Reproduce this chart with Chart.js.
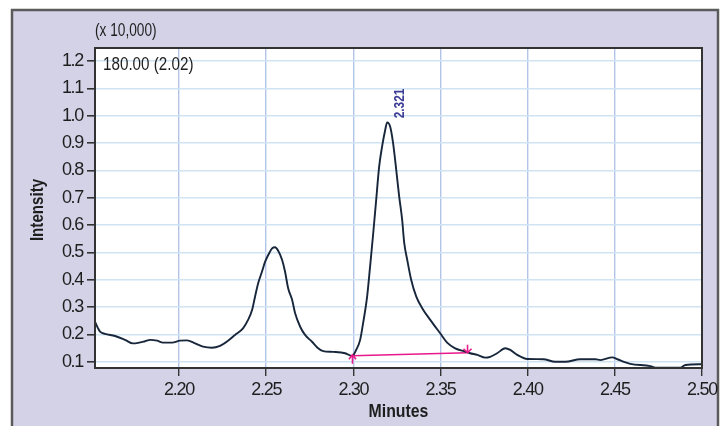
<!DOCTYPE html>
<html><head><meta charset="utf-8">
<script src="https://cdn.jsdelivr.net/npm/chart.js@4.4.1/dist/chart.umd.min.js"></script>
<style>html,body{margin:0;padding:0;background:#fff}#wrap{width:727px;height:426px}</style>
</head><body><div id="wrap"><canvas id="c" width="727" height="426"></canvas></div>
<script>
// Retention time (minutes)
const minutes = [2.1518,2.1535,2.1547,2.1575,2.1633,2.1690,2.1736,2.1765,2.1805,2.1834,2.1874,2.1908,2.1960,2.2006,2.2046,2.2092,2.2138,2.2189,2.2235,2.2281,2.2321,2.2367,2.2396,2.2419,2.2436,2.2454,2.2476,2.2494,2.2517,2.2534,2.2551,2.2568,2.2591,2.2608,2.2626,2.2649,2.2666,2.2695,2.2723,2.2763,2.2798,2.2827,2.2884,2.2953,2.2993,2.3016,2.3039,2.3056,2.3079,2.3096,2.3114,2.3131,2.3148,2.3165,2.3183,2.3194,2.3211,2.3228,2.3246,2.3263,2.3280,2.3292,2.3309,2.3332,2.3361,2.3395,2.3441,2.3498,2.3538,2.3584,2.3642,2.3670,2.3711,2.3757,2.3785,2.3825,2.3871,2.3900,2.3940,2.3998,2.4090,2.4158,2.4216,2.4302,2.4388,2.4417,2.4486,2.4514,2.4589,2.4704,2.4733,2.4876,2.4905,2.5003];
// Intensity (x 10,000)
const intensity = [0.247,0.223,0.210,0.202,0.194,0.180,0.167,0.169,0.175,0.180,0.177,0.170,0.170,0.177,0.178,0.167,0.155,0.151,0.158,0.177,0.198,0.222,0.253,0.289,0.338,0.387,0.430,0.466,0.497,0.515,0.519,0.507,0.473,0.430,0.369,0.326,0.277,0.228,0.198,0.173,0.149,0.139,0.136,0.131,0.121,0.143,0.180,0.241,0.338,0.448,0.570,0.692,0.814,0.888,0.949,0.976,0.961,0.900,0.802,0.704,0.619,0.534,0.473,0.399,0.338,0.296,0.253,0.204,0.170,0.149,0.137,0.131,0.125,0.115,0.118,0.131,0.149,0.143,0.125,0.110,0.109,0.100,0.100,0.109,0.109,0.106,0.116,0.109,0.092,0.084,0.078,0.078,0.088,0.091];
const xTicks = [2.20,2.25,2.30,2.35,2.40,2.45,2.50];
const yTicks = [0.1,0.2,0.3,0.4,0.5,0.6,0.7,0.8,0.9,1.0,1.1,1.2];
const baselineX = [2.2995,2.3655];
const baselineY = [0.122,0.133];
const peakTime = 2.321, peakTop = 0.976, peakText = '2.321';
const channelText = '180.00 (2.02)';
const scaleText = '(x 10,000)';
const xTitle = 'Minutes', yTitle = 'Intensity';

const REG = "'Liberation Sans',Arial,sans-serif";

function txt(c, s, x, y, font, sx, align, rot, color){
  c.save();
  c.translate(x,y);
  if(rot) c.rotate(rot);
  c.scale(sx,1);
  c.font=font; c.fillStyle=color||'#1e1e1e';
  c.textAlign=align; c.textBaseline='middle';
  c.fillText(s,0,0);
  c.restore();
}

const deco = {
  id:'deco',
  beforeDraw(chart){
    const c = chart.ctx, a = chart.chartArea;
    c.save();
    c.fillStyle='#ffffff'; c.fillRect(0,0,727,426);
    c.fillStyle='#d4d2e7'; c.fillRect(12,10,706,420);
    c.strokeStyle='#5b5b5b'; c.lineWidth=2.5; c.strokeRect(12,10,706,430);
    c.fillStyle='#ffffff'; c.fillRect(a.left,a.top,a.right-a.left,a.bottom-a.top);
    c.restore();
    c.letterSpacing='-1.3px';
  },
  afterDatasetsDraw(chart){
    const c = chart.ctx, xs = chart.scales.x, ys = chart.scales.y;
    c.save();
    c.letterSpacing='0px';
    c.strokeStyle='#e8198b'; c.lineWidth=1.6;
    let x0 = xs.getPixelForValue(baselineX[0]), y0 = ys.getPixelForValue(baselineY[0]);
    c.beginPath(); c.moveTo(x0,y0-1); c.lineTo(x0,y0+8);
    c.moveTo(x0-3.5,y0+3.5); c.lineTo(x0,y0-1); c.lineTo(x0+3.5,y0+3.5); c.stroke();
    let x1 = xs.getPixelForValue(baselineX[1]), y1 = ys.getPixelForValue(baselineY[1]);
    c.beginPath(); c.moveTo(x1,y1-8); c.lineTo(x1,y1);
    c.moveTo(x1-4,y1-4); c.lineTo(x1,y1); c.lineTo(x1+4,y1-4); c.stroke();
    const px = xs.getPixelForValue(peakTime)+10, py = ys.getPixelForValue(peakTop)-4;
    txt(c, peakText, px, py, "bold 14px "+REG, 0.85, 'left', -Math.PI/2, '#3c3c96');
    c.restore();
  },
  afterDraw(chart){
    const c = chart.ctx, a = chart.chartArea;
    c.save();
    c.letterSpacing='0px';
    c.strokeStyle='#333333'; c.lineWidth=2;
    c.strokeRect(a.left,a.top,a.right-a.left,a.bottom-a.top);
    txt(c, scaleText, 95, 31, "18px "+REG, 0.76, 'left');
    txt(c, channelText, a.left+8, a.top+17, "18px "+REG, 0.845, 'left');
    txt(c, xTitle, (a.left+a.right)/2, 412, "bold 18px "+REG, 0.88, 'center');
    txt(c, yTitle, 38, 210, "bold 18px "+REG, 0.84, 'center', -Math.PI/2);
    c.restore();
  }
};

new Chart(document.getElementById('c'),{
  type:'line',
  data:{datasets:[
    {data:minutes.map((m,i)=>({x:m,y:intensity[i]})),borderColor:'#17263a',borderWidth:1.9,pointRadius:0,cubicInterpolationMode:'monotone',fill:false},
    {data:baselineX.map((m,i)=>({x:m,y:baselineY[i]})),borderColor:'#e8198b',borderWidth:1.4,pointRadius:0,fill:false}
  ]},
  options:{
    responsive:false,animation:false,devicePixelRatio:1,
    layout:{padding:{top:48,right:25,left:0,bottom:0}},
    plugins:{legend:{display:false},tooltip:{enabled:false}},
    scales:{
      x:{type:'linear',min:2.1518,max:2.5,
        afterBuildTicks:s=>{s.ticks=xTicks.map(v=>({value:v}));},
        afterFit:s=>{s.height=58;},
        ticks:{callback:v=>v.toFixed(2),color:'#1e1e1e',font:{family:REG,size:18},padding:3,maxRotation:0,autoSkip:false},
        grid:{color:'#b3c5e6',lineWidth:1.4,tickColor:'#333',tickLength:8},
        border:{display:true,color:'#333',width:2}},
      y:{type:'linear',min:0.077,max:1.248,
        afterBuildTicks:s=>{s.ticks=yTicks.map(v=>({value:v}));},
        afterFit:s=>{s.width=95;},
        ticks:{callback:v=>v.toFixed(1),color:'#1e1e1e',font:{family:REG,size:18},padding:4,autoSkip:false},
        grid:{color:'#cfe3f3',lineWidth:1.6,tickColor:'#333',tickLength:8},
        border:{display:true,color:'#333',width:2}}
    }
  },
  plugins:[deco]
});
</script></body></html>
